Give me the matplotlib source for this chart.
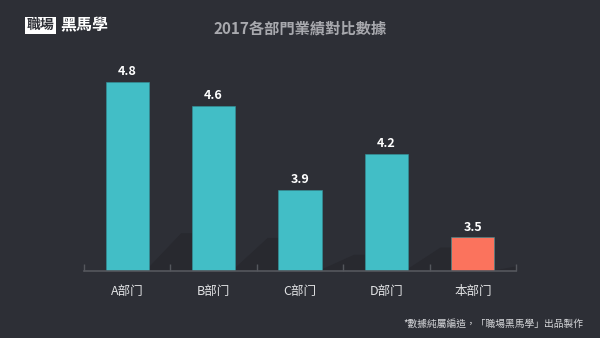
import matplotlib
matplotlib.use("Agg")
import matplotlib.pyplot as plt
from matplotlib.patches import Polygon

plt.rcParams["font.family"] = ["Noto Sans CJK TC", "DejaVu Sans"]

departments = ["A部门", "B部门", "C部门", "D部门", "本部门"]
scores = [4.8, 4.6, 3.9, 4.2, 3.5]
highlight = "本部门"

BG = "#2d2f36"
TEAL = "#42bec6"
CORAL = "#fb735d"
SHADOW = "#28292f"
AXIS = "#55575d"

y_min, y_max = 3.22, 5.145
bar_w = 0.5

fig = plt.figure(figsize=(6.0, 3.38), dpi=100, facecolor=BG)
ax = fig.add_axes([0.14, 0.198, 0.72, 0.683])
ax.set_facecolor(BG)

x = list(range(len(departments)))
colors = [CORAL if d == highlight else TEAL for d in departments]

# soft floor shadow in the gap to the right of each bar
for i, v in enumerate(scores):
    left = i + bar_w / 2
    right = i + 1 - bar_w / 2
    h = (v - y_min) * 0.2
    pts = [(left, y_min), (left, y_min + h * 0.1),
           (left + (right - left) * 0.75, y_min + h), (right, y_min + h),
           (right, y_min)]
    ax.add_patch(Polygon(pts, closed=True, facecolor=SHADOW,
                         edgecolor="none", zorder=1))

ax.bar(x, [v - y_min for v in scores], bottom=y_min, width=bar_w,
       color=colors, edgecolor="#33939a", linewidth=0.4, zorder=2)

for xi, v in zip(x, scores):
    ax.text(xi, v + 0.03, f"{v:.1f}", ha="center", va="bottom",
            color="white", fontsize=9, fontweight="bold",
            fontstretch="condensed")

ax.set_xlim(-0.5, len(departments) - 0.5)
ax.set_ylim(y_min, y_max)
ax.set_yticks([])
for s in ["top", "right", "left"]:
    ax.spines[s].set_visible(False)
ax.spines["bottom"].set_color(AXIS)
ax.spines["bottom"].set_linewidth(1.2)

# boundary ticks pointing up, labels centred under bars
ax.set_xticks([i - 0.5 for i in range(len(departments) + 1)])
ax.set_xticks(x, minor=True)
ax.set_xticklabels([])
ax.set_xticklabels(departments, minor=True)
ax.tick_params(axis="x", which="major", direction="in", length=5,
               color=AXIS, width=1)
ax.tick_params(axis="x", which="minor", length=0, pad=10,
               labelsize=9, labelcolor="#e2e3e5")

fig.text(0.5, 0.915, "2017各部門業績對比數據", ha="center", va="center",
         color="#a8a9ae", fontsize=11, fontweight="bold")

# logo
fig.text(0.045, 0.925, "職場", ha="left", va="center", color="#2d2f36",
         fontsize=10, fontweight="bold",
         bbox=dict(boxstyle="square,pad=0.12", facecolor="white",
                   edgecolor="none"))
fig.text(0.1, 0.925, "黑馬學", ha="left", va="center", color="white",
         fontsize=11.5, fontweight="bold")

fig.text(0.972, 0.042, "*數據純屬編造，「職場黑馬學」出品製作", ha="right",
         va="center", color="#d6d7da", fontsize=7)

fig.savefig("out.png", dpi=100, facecolor=BG)
